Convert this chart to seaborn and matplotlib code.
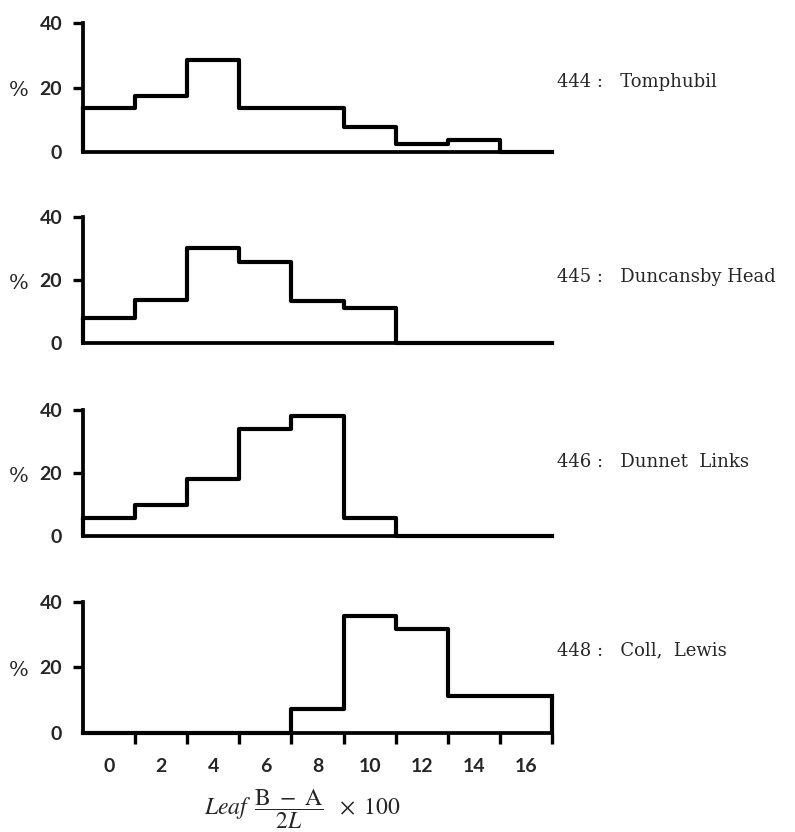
import matplotlib
matplotlib.use("Agg")
import matplotlib.pyplot as plt
import matplotlib.transforms as mtransforms
import numpy as np
import pandas as pd
import seaborn as sns

# ---------------- data ----------------
bin_centers = [0, 2, 4, 6, 8, 10, 12, 14, 16]
bin_edges = [-1, 1, 3, 5, 7, 9, 11, 13, 15, 17]
tick_labels = ["0", "2", "4", "6", "8", "10", "12", "14", "16"]
y_ticks = [0, 20, 40]

pct_444 = [13.5, 17.3, 28.4, 13.5, 13.5, 7.8, 2.5, 3.7, 0]
pct_445 = [7.9, 13.7, 30.1, 25.8, 13.4, 11.2, 0, 0, 0]
pct_446 = [5.7, 9.8, 18.0, 34.0, 38.0, 5.8, 0, 0, 0]
pct_448 = [0, 0, 0, 0, 7.3, 35.7, 31.6, 11.2, 11.2]

series = [pct_444, pct_445, pct_446, pct_448]
names = ["444 :   Tomphubil", "445 :   Duncansby Head",
         "446 :   Dunnet  Links", "448 :   Coll,  Lewis"]

# ---------------- style ----------------
sns.set_style("white")
plt.rcParams["font.family"] = ["DejaVu Serif"]
plt.rcParams["mathtext.fontset"] = "stix"

fig = plt.figure(figsize=(7.95, 8.32), dpi=100)

# axes placement (figure fractions)
positions = [
    [0.1044, 0.8173, 0.590, 0.1550],
    [0.1044, 0.5877, 0.590, 0.1514],
    [0.1044, 0.3558, 0.590, 0.1514],
    [0.1044, 0.1190, 0.590, 0.1575],
]
label_y = [0.9014, 0.6671, 0.4447, 0.2188]

LW = 3.0
tick_font = dict(family="Lato", weight="bold", size=14)

for i, (vals, name, pos) in enumerate(zip(series, names, positions)):
    ax = fig.add_axes(pos)
    df = pd.DataFrame({"x": bin_centers, "w": vals})
    sns.histplot(data=df, x="x", weights="w", bins=bin_edges,
                 element="step", fill=False, color="black",
                 linewidth=LW, ax=ax)
    # close the outline at both ends
    ax.vlines([bin_edges[0], bin_edges[-1]], 0, [vals[0], vals[-1]],
              colors="black", linewidth=LW)
    for ln in ax.lines:
        ln.set_clip_on(False)
        ln.set_solid_capstyle("projecting")
    for coll in ax.collections:
        coll.set_clip_on(False)

    ax.set_xlim(bin_edges[0], bin_edges[-1])
    ax.set_ylim(0, 40)
    ax.set_xlabel("")
    ax.set_ylabel("")
    for s in ["top", "right"]:
        ax.spines[s].set_visible(False)
    for s in ["left", "bottom"]:
        ax.spines[s].set_linewidth(2.7)
        ax.spines[s].set_color("black")

    ax.set_yticks(y_ticks)
    ax.set_yticklabels([str(t) for t in y_ticks], **tick_font)
    ax.tick_params(axis="y", which="major", direction="out", length=7,
                   width=2.4, color="black", pad=8, left=True)
    ax.yaxis.get_major_ticks()[0].tick1line.set_visible(False)

    if i == 3:
        ax.set_xticks(bin_centers)
        ax.set_xticklabels(tick_labels, **tick_font)
        ax.set_xticks(bin_edges[1:], minor=True)
        ax.tick_params(axis="x", which="major", length=0, pad=18)
        ax.tick_params(axis="x", which="minor", direction="out", length=8,
                       width=2.4, color="black", bottom=True)
    else:
        ax.set_xticks([])

    trans = mtransforms.blended_transform_factory(ax.transAxes, ax.transData)
    ax.text(-0.137, 19.0, "%", transform=trans, ha="center", va="center",
            fontsize=15, family="DejaVu Serif")

    fig.text(0.7006, label_y[i], name, ha="left", va="center",
             fontsize=13, family="DejaVu Serif")

fig.text(0.38, 0.021,
         r"$\mathit{Leaf}\,\ \dfrac{\mathrm{B}\ -\ \mathrm{A}}{2L}\ \ \times\ 100$",
         ha="center", va="baseline", fontsize=17)

fig.savefig("out.png", dpi=100)
